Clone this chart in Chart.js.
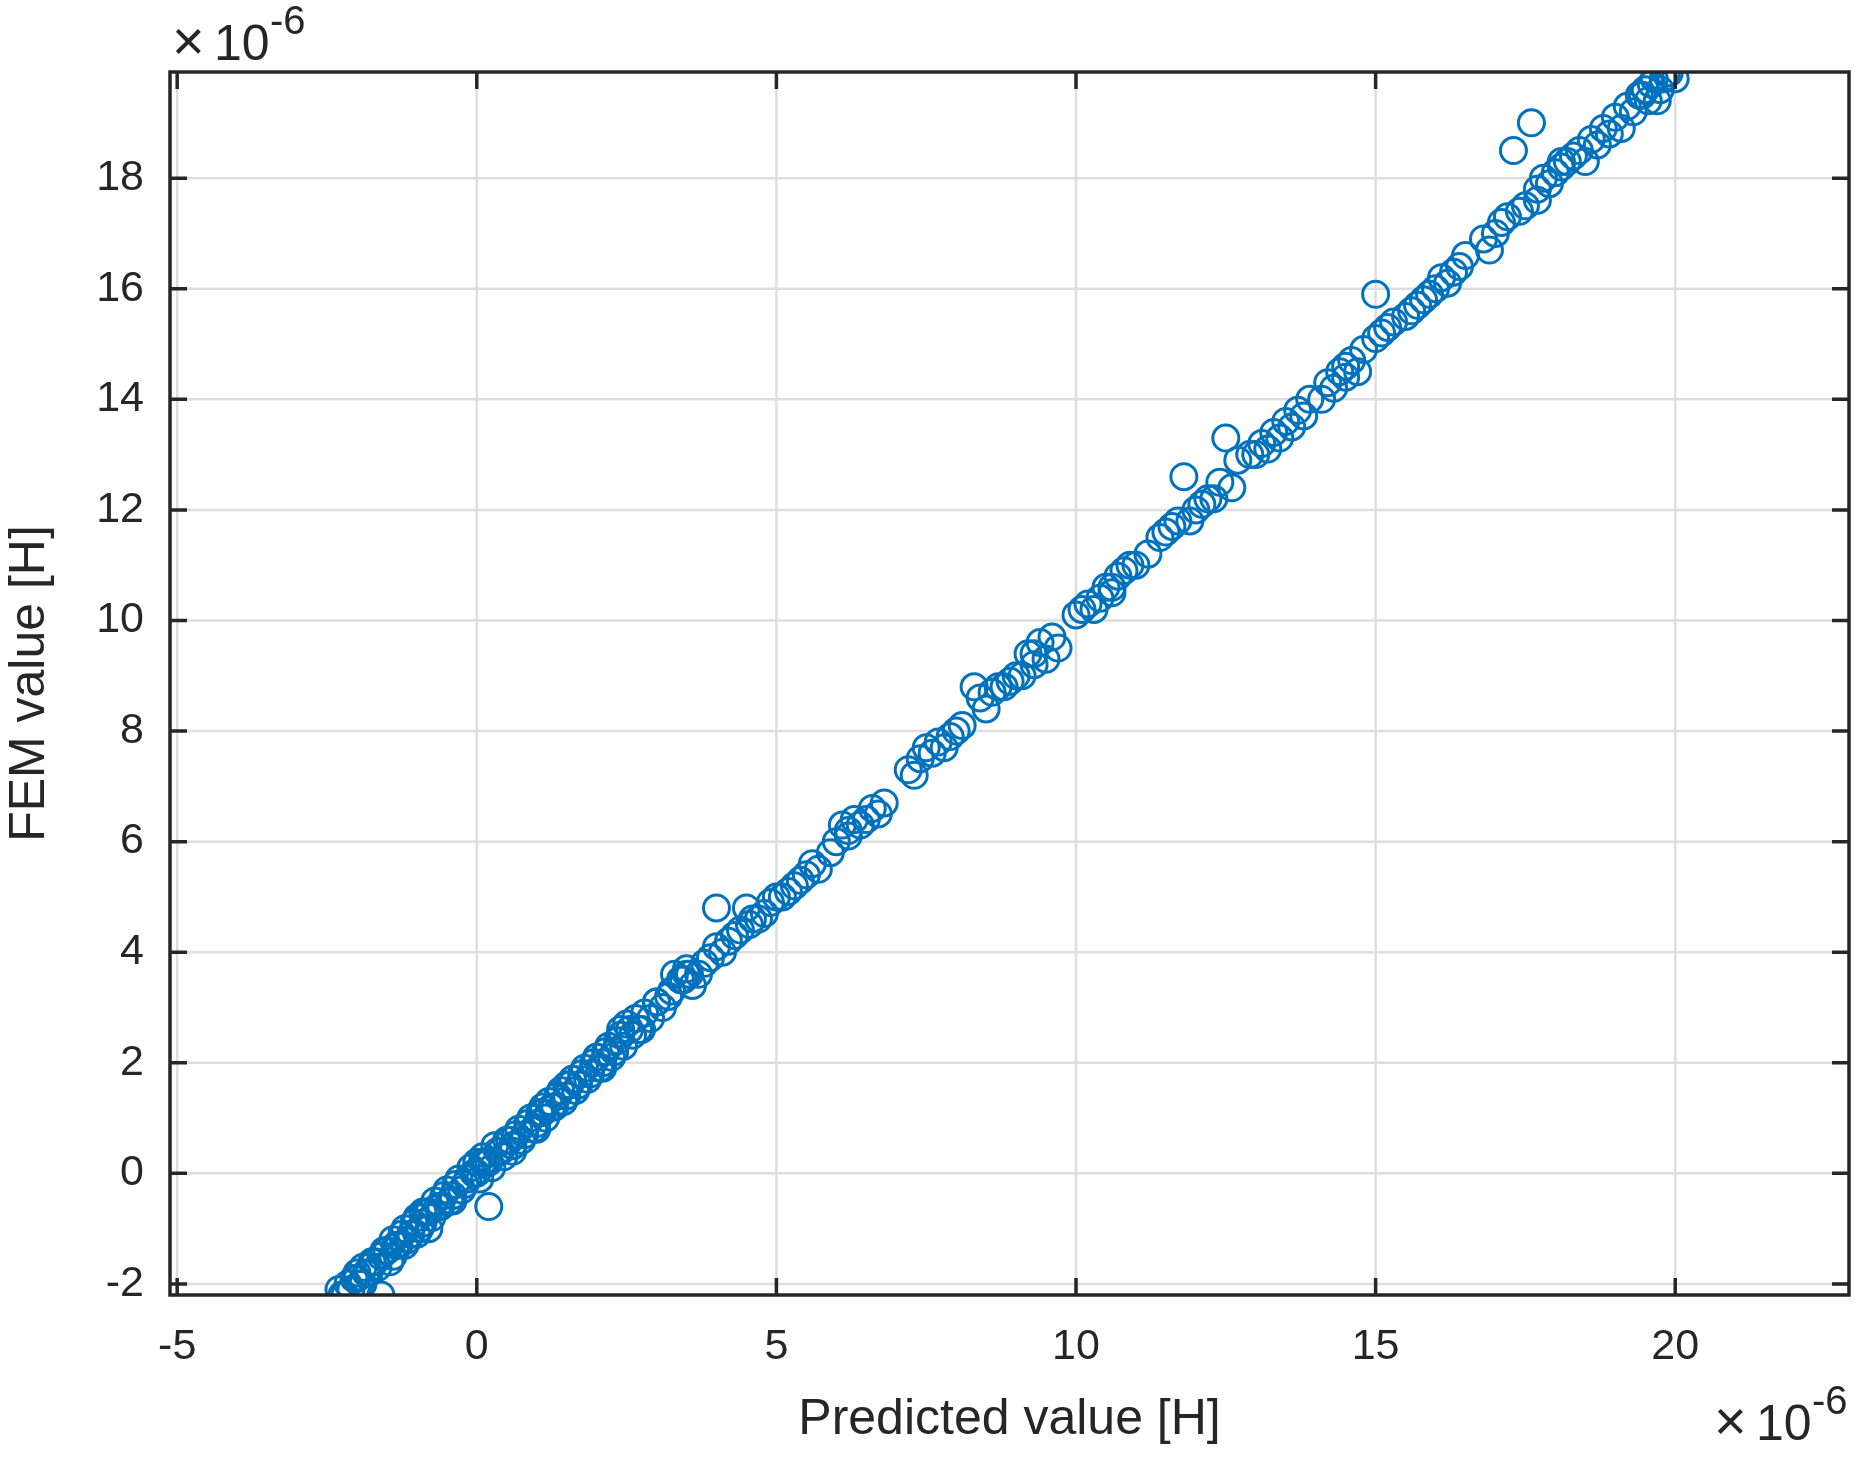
<!DOCTYPE html>
<html><head><meta charset="utf-8">
<script src="https://cdn.jsdelivr.net/npm/chart.js@4"></script>
<style>html,body{margin:0;padding:0;background:#fff}#w{width:1876px;height:1462px}</style>
</head><body><div id="w"><canvas id="c"></canvas></div>
<script>
const predicted = [-2.3,-2.2,-2.1,-2.0,-1.9,-1.8,-1.7,-1.6,-1.5,-1.4,-1.3,-1.2,-1.1,-1.0,-0.9,-0.8,-0.7,-0.6,-0.5,-0.4,-0.3,-0.2,-0.1,0.0,0.1,0.2,0.3,0.4,0.5,0.6,0.7,0.8,0.9,1.0,1.1,1.2,1.3,1.4,1.5,1.6,1.7,1.8,1.9,2.0,2.1,2.2,2.3,2.4,2.5,2.6,2.7,2.8,3.0,3.2,3.3,3.4,3.5,3.6,3.8,4.0,4.1,4.3,4.5,4.6,4.8,5.0,5.1,5.3,5.5,5.7,6.0,6.1,6.2,6.4,6.6,6.8,7.2,7.4,7.5,7.7,7.9,8.1,8.4,8.6,8.8,9.0,9.2,9.4,9.5,9.7,10.0,10.2,10.4,10.6,10.8,11.0,11.2,11.5,11.7,11.8,12.0,12.2,12.4,12.5,12.7,12.9,13.1,13.3,13.5,13.7,13.9,14.2,14.4,14.6,14.8,15.0,15.2,15.5,15.7,15.9,16.1,16.3,16.5,16.8,17.0,17.2,17.3,17.5,17.6,17.7,17.8,18.0,18.2,18.4,18.6,18.8,19.0,19.2,19.4,19.5,19.6,19.7,19.8,19.9,20.0,-1.6,0.2,4.0,8.3,15.0,1.5,-0.8,2.4,6.2,10.6,14.5,18.1,-1.2,0.6,3.5,9.3];
const fem = [-2.1,-2.2,-2.1,-1.9,-1.7,-1.8,-1.6,-1.5,-1.4,-1.2,-1.3,-1.0,-1.1,-0.8,-0.9,-0.7,-0.5,-0.6,-0.3,-0.4,-0.1,-0.2,0.1,0.0,0.3,0.2,0.5,0.4,0.6,0.5,0.8,0.7,1.0,0.9,1.1,1.3,1.2,1.5,1.4,1.7,1.6,1.9,1.8,2.1,2.0,2.3,2.2,2.5,2.7,2.5,2.6,2.9,3.1,3.2,3.6,3.5,3.7,3.4,3.8,4.1,4.0,4.3,4.8,4.6,4.7,5.0,5.0,5.2,5.4,5.5,6.0,6.3,6.2,6.3,6.6,6.7,7.3,7.5,7.7,7.8,7.9,8.1,8.6,8.7,8.8,9.0,9.4,9.6,9.3,9.5,10.1,10.3,10.4,10.6,10.9,11.0,11.2,11.6,11.8,12.6,12.0,12.2,12.5,13.3,12.9,13.0,13.2,13.4,13.6,13.8,14.0,14.3,14.5,14.7,14.9,15.1,15.3,15.5,15.7,15.9,16.2,16.3,16.6,16.9,17.0,17.3,18.5,17.5,19.0,17.6,18.0,18.1,18.3,18.5,18.7,18.9,19.1,19.3,19.5,19.6,19.7,19.4,19.8,19.9,19.8,-2.2,-0.6,4.8,8.8,15.9,1.6,-1.0,2.6,6.1,10.5,14.4,18.3,-1.3,0.5,3.6,9.4];
const predictedExtra = [-2.25,-2.15,-2.05,-1.95,-1.85,-1.75,-1.65,-1.55,-1.45,-1.35,-1.25,-1.15,-1.05,-0.95,-0.85,-0.75,-0.65,-0.55,-0.45,-0.35,-0.25,-0.15,-0.05,0.05,0.15,0.25,0.35,0.45,0.55,0.65,0.75,0.85,0.95,1.05,1.15,1.25,1.35,1.45,1.55,1.65,1.75,1.85,1.95,2.05,2.15,2.25,2.35,2.45,2.55,2.65,2.75,2.9,3.1,3.25,3.45,3.55,3.7,3.9,4.2,4.4,4.55,4.7,4.9,5.2,5.4,5.6,5.9,6.3,6.5,6.7,7.3,7.6,7.8,8.0,8.5,8.7,8.9,9.1,9.3,9.6,10.1,10.3,10.5,10.7,10.9,11.4,11.6,11.9,12.1,12.3,12.6,13.0,13.2,13.4,13.6,13.8,14.1,14.3,14.5,14.7,15.1,15.3,15.6,15.8,16.0,16.2,16.4,16.9,17.1,17.4,17.7,17.9,18.1,18.3,18.5,18.7,18.9,19.1,19.3,19.45,19.55,19.65,19.75,19.85,-1.9,-1.4,-0.9,-0.4,0.1,0.6,1.1,1.6,2.1,-2.0,-1.0,0.0,1.0,2.0,3.0];
const femExtra = [-2.2,-2.0,-1.9,-2.0,-1.8,-1.6,-1.7,-1.4,-1.6,-1.3,-1.1,-1.2,-0.9,-1.0,-0.7,-0.8,-0.6,-0.4,-0.5,-0.2,-0.3,-0.1,0.0,-0.1,0.2,0.1,0.4,0.3,0.6,0.7,0.6,0.9,0.8,1.1,1.0,1.2,1.4,1.3,1.6,1.5,1.8,1.7,2.0,1.9,2.2,2.1,2.4,2.3,2.6,2.8,2.6,2.8,3.0,3.3,3.5,3.6,3.6,3.9,4.2,4.4,4.5,4.6,4.9,5.1,5.3,5.6,5.8,6.4,6.4,6.5,7.2,7.6,7.7,8.0,8.4,8.8,8.9,9.0,9.2,9.7,10.2,10.2,10.6,10.8,11.0,11.5,11.7,11.8,12.1,12.2,12.4,13.0,13.1,13.3,13.5,13.7,14.0,14.2,14.6,14.5,15.2,15.4,15.6,15.8,16.0,16.1,16.4,16.7,17.2,17.4,17.8,17.9,18.2,18.4,18.3,18.6,18.8,18.9,19.2,19.5,19.4,19.8,19.6,19.9,-2.0,-1.5,-0.7,-0.5,0.2,0.4,1.2,1.7,1.9,-1.8,-1.1,0.2,0.8,2.1,3.1];
const xTicks = [-5,0,5,10,15,20];
const yTicks = [-2,0,2,4,6,8,10,12,14,16,18];
const xRange = [-5.12, 22.9];
const yRange = [-2.2, 19.92];

const pts = predicted.map((x,i)=>({x:x,y:fem[i]})).concat(predictedExtra.map((x,i)=>({x:x,y:femExtra[i]})));
const FONT = 'Liberation Sans, Arial, sans-serif';
const C = '#262626';

const frame = {
  id:'frame',
  beforeDatasetsDraw(ch){
    const {ctx, chartArea:a, scales:{x,y}} = ch;
    ctx.save(); ctx.strokeStyle='#dedede'; ctx.lineWidth=2.5;
    xTicks.forEach(v=>{const p=x.getPixelForValue(v);ctx.beginPath();ctx.moveTo(p,a.top);ctx.lineTo(p,a.bottom);ctx.stroke();});
    yTicks.forEach(v=>{const p=y.getPixelForValue(v);ctx.beginPath();ctx.moveTo(a.left,p);ctx.lineTo(a.right,p);ctx.stroke();});
    ctx.restore();
  },
  afterDraw(ch){
    const {ctx, chartArea:a, scales:{x,y}} = ch;
    ctx.save(); ctx.strokeStyle=C; ctx.lineWidth=3.5;
    ctx.strokeRect(a.left,a.top,a.right-a.left,a.bottom-a.top);
    const t=17;
    xTicks.forEach(v=>{const p=x.getPixelForValue(v);ctx.beginPath();ctx.moveTo(p,a.bottom);ctx.lineTo(p,a.bottom-t);ctx.moveTo(p,a.top);ctx.lineTo(p,a.top+t);ctx.stroke();});
    yTicks.forEach(v=>{const p=y.getPixelForValue(v);ctx.beginPath();ctx.moveTo(a.left,p);ctx.lineTo(a.left+t,p);ctx.moveTo(a.right,p);ctx.lineTo(a.right-t,p);ctx.stroke();});
    ctx.fillStyle=C; ctx.textBaseline='alphabetic';
    function mult(xp,yp){
      ctx.textAlign='left';
      ctx.font='56px '+FONT; ctx.fillText('\u00d7',xp,yp);
      ctx.font='50px '+FONT; ctx.fillText('10',xp+42,yp);
      ctx.font='40px '+FONT; ctx.fillText('-6',xp+98,yp-26);
    }
    mult(172,60);
    mult(1714,1440);
    ctx.restore();
  }
};

new Chart(document.getElementById('c'),{
  type:'scatter',
  data:{datasets:[{data:pts,pointRadius:13,pointHoverRadius:13,pointBackgroundColor:'rgba(0,0,0,0)',pointBorderColor:'#0072BD',pointBorderWidth:3}]},
  options:{
    responsive:true,maintainAspectRatio:false,animation:false,
    layout:{padding:{left:0,top:72,right:27,bottom:0}},
    plugins:{legend:{display:false},tooltip:{enabled:false}},
    scales:{
      x:{type:'linear',min:xRange[0],max:xRange[1],
        afterBuildTicks(s){s.ticks=xTicks.map(v=>({value:v}));},
        afterFit(s){s.height=167;},
        grid:{display:false},border:{display:false},
        ticks:{color:C,font:{size:43,family:FONT},padding:18,maxRotation:0,autoSkip:false},
        title:{display:true,text:'Predicted value [H]',color:C,font:{size:50,family:FONT},padding:{top:0,bottom:12}}},
      y:{type:'linear',min:yRange[0],max:yRange[1],
        afterBuildTicks(s){s.ticks=yTicks.map(v=>({value:v}));},
        afterFit(s){s.width=170;},
        grid:{display:false},border:{display:false},
        ticks:{color:C,font:{size:43,family:FONT},padding:18,autoSkip:false},
        title:{display:true,text:'FEM value [H]',color:C,font:{size:50,family:FONT},padding:{top:0,bottom:0}}}
    }
  },
  plugins:[frame]
});
</script></body></html>
